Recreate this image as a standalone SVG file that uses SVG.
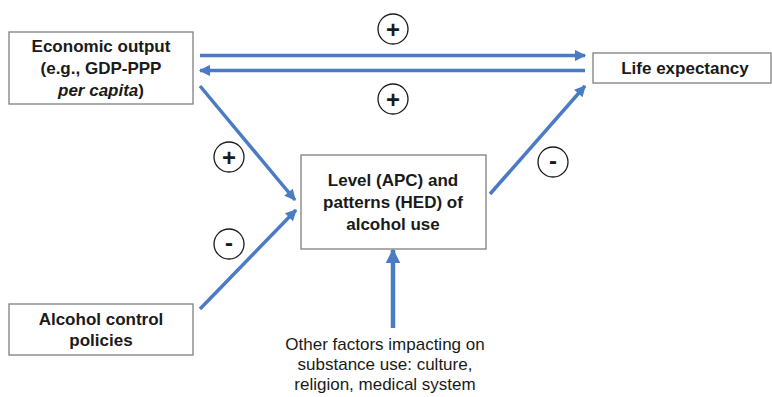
<svg xmlns="http://www.w3.org/2000/svg" width="772" height="397" viewBox="0 0 772 397">
<defs>
<style>
.box{fill:#fff;stroke:#7f7f7f;stroke-width:1.3}
.t{font-family:"Liberation Sans",Arial,sans-serif;font-size:17px;font-weight:bold;fill:#1a1a1a;text-anchor:middle}
.r{font-family:"Liberation Sans",Arial,sans-serif;font-size:17px;fill:#1a1a1a;text-anchor:middle}
.c{fill:#fff;stroke:#1a1a1a;stroke-width:1.3}
.s{font-family:"Liberation Sans",Arial,sans-serif;font-size:24px;font-weight:bold;fill:#1a1a1a;text-anchor:middle}
.a{stroke:#4A7BC4;stroke-width:3.5;fill:none;marker-end:url(#ah)}
</style>
<marker id="ah" viewBox="0 0 10 10" refX="9" refY="5" markerWidth="3.6" markerHeight="3.2" orient="auto" markerUnits="strokeWidth">
<path d="M0,0 L10,5 L0,10 z" fill="#4A7BC4"/>
</marker>
</defs>
<rect width="772" height="397" fill="#fff"/>
<g id="connectors">
<line class="a" x1="200" y1="55.5" x2="585" y2="55.5"/>
<line class="a" x1="585" y1="70.5" x2="200" y2="70.5"/>
<line class="a" x1="200" y1="86" x2="295" y2="200"/>
<line class="a" x1="200" y1="309" x2="296" y2="210"/>
<line class="a" x1="490" y1="194" x2="585" y2="86"/>
<line class="a" x1="393" y1="328" x2="393" y2="250" style="stroke-width:4.5"/>
</g>
<g id="economic-output">
<rect class="box" x="9" y="32" width="184" height="72"/>
<text class="t" x="101" y="52">Economic output</text>
<text class="t" x="101" y="74">(e.g., GDP-PPP</text>
<text class="t" x="101" y="96"><tspan font-style="italic">per capita</tspan>)</text>
</g>
<g id="life-expectancy">
<rect class="box" x="593" y="53" width="178" height="30"/>
<text class="t" x="685" y="74">Life expectancy</text>
</g>
<g id="alcohol-use">
<rect class="box" x="301" y="155" width="185" height="94"/>
<text class="t" x="393" y="186">Level (APC) and</text>
<text class="t" x="393" y="208">patterns (HED) of</text>
<text class="t" x="393" y="230">alcohol use</text>
</g>
<g id="alcohol-control">
<rect class="box" x="9" y="304" width="184" height="51"/>
<text class="t" x="101" y="325">Alcohol control</text>
<text class="t" x="101" y="346">policies</text>
</g>
<g id="other-factors">
<text class="r" x="385" y="350">Other factors impacting on</text>
<text class="r" x="385" y="370">substance use: culture,</text>
<text class="r" x="385" y="390">religion, medical system</text>
</g>
<g id="signs">
<circle class="c" cx="393" cy="29" r="15"/>
<text class="s" x="393" y="37.5">+</text>
<circle class="c" cx="393" cy="99" r="15"/>
<text class="s" x="393" y="107.5">+</text>
<circle class="c" cx="229" cy="157" r="15"/>
<text class="s" x="229" y="165.5">+</text>
<circle class="c" cx="229" cy="244" r="15"/>
<text class="s" x="229" y="251">-</text>
<circle class="c" cx="553" cy="162" r="15"/>
<text class="s" x="553" y="169">-</text>
</g>
</svg>
